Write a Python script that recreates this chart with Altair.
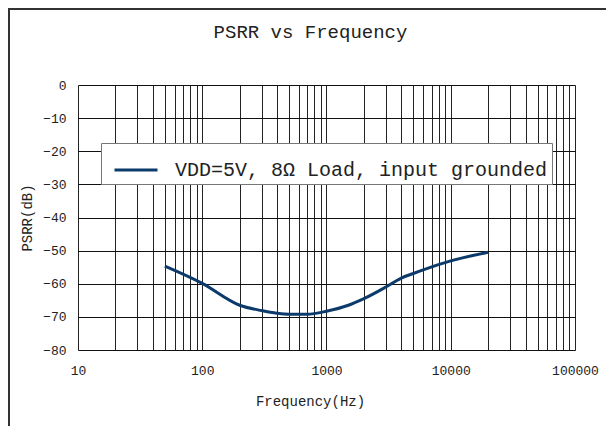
import altair as alt
import pandas as pd

# Data
freq = [50, 100, 200, 300, 400, 500, 700, 1000, 1500, 2000, 3000, 4000, 5000, 6000, 10000, 20000]
psrr = [-54.7, -59.9, -66.5, -68.1, -68.9, -69.2, -69.2, -68.3, -66.5, -64.5, -61.0, -58.3, -56.9, -55.8, -53.1, -50.5]
series_name = "VDD=5V, 8Ω Load, input grounded"

x_grid = [m * 10 ** e for e in range(1, 5) for m in range(1, 10)] + [100000]
x_labels = [10, 100, 1000, 10000, 100000]
y_ticks = list(range(-80, 1, 10))

FONT = "Liberation Mono"

df = pd.DataFrame({"freq": freq, "psrr": psrr, "series": [series_name] * len(freq)})

label_expr = "indexof(%s, datum.value) >= 0 ? format(datum.value, 'd') : ''" % str(x_labels)

line = alt.Chart(df).mark_line(strokeWidth=3, interpolate="monotone").encode(
    x=alt.X(
        "freq:Q",
        scale=alt.Scale(type="log", domain=[10, 100000], nice=False),
        axis=alt.Axis(
            values=x_grid,
            labelExpr=label_expr,
            grid=True,
            gridColor="#222",
            gridOpacity=1,
            ticks=False,
            domain=False,
            labelFont=FONT,
            labelFontSize=13,
            labelColor="#222",
            labelPadding=14,
            labelFlush=False,
            labelOverlap=False,
            title="Frequency(Hz)",
            titleFont=FONT,
            titleFontSize=14,
            titleFontWeight="normal",
            titleColor="#222",
            titlePadding=17,
            titleX=232,
        ),
    ),
    y=alt.Y(
        "psrr:Q",
        scale=alt.Scale(domain=[-80, 0], nice=False),
        axis=alt.Axis(
            values=y_ticks,
            grid=True,
            gridColor="#111",
            gridOpacity=1,
            ticks=False,
            domain=False,
            labelFont=FONT,
            labelFontSize=13,
            labelColor="#222",
            labelPadding=12,
            title="PSRR(dB)",
            titleFont=FONT,
            titleFontSize=14,
            titleFontWeight="normal",
            titleColor="#222",
            titlePadding=8,
        ),
    ),
    color=alt.Color(
        "series:N",
        scale=alt.Scale(range=["#0b3a6b"]),
        legend=alt.Legend(
            title=None,
            orient="none",
            legendX=23,
            legendY=58,
            fillColor="white",
            strokeColor="#777",
            padding=4,
            symbolOffset=8,
            symbolType="stroke",
            symbolSize=1849,
            symbolStrokeWidth=3,
            labelFont=FONT,
            labelFontSize=20,
            labelColor="#222",
            labelOffset=16,
            labelLimit=600,
        ),
    ),
)

frame = alt.Chart(pd.DataFrame({"a": [0]})).mark_rect(
    fillOpacity=0, stroke="#333", strokeWidth=2
).encode(
    x=alt.value(-69), y=alt.value(-76), x2=alt.value(700), y2=alt.value(600)
)

chart = alt.layer(frame, line).properties(
    width=497,
    height=265,
    title=alt.TitleParams(
        "PSRR vs Frequency",
        font=FONT,
        fontSize=19,
        fontWeight="normal",
        color="#222",
        offset=-34,
        dx=-16,
    ),
    autosize=alt.AutoSizeParams(type="none"),
    padding={"left": 70, "top": 77, "right": 31, "bottom": 76},
).configure_view(stroke="#333", strokeWidth=1).configure(background="white")

chart.save("out.html", embed_options={"renderer": "svg", "actions": False})
